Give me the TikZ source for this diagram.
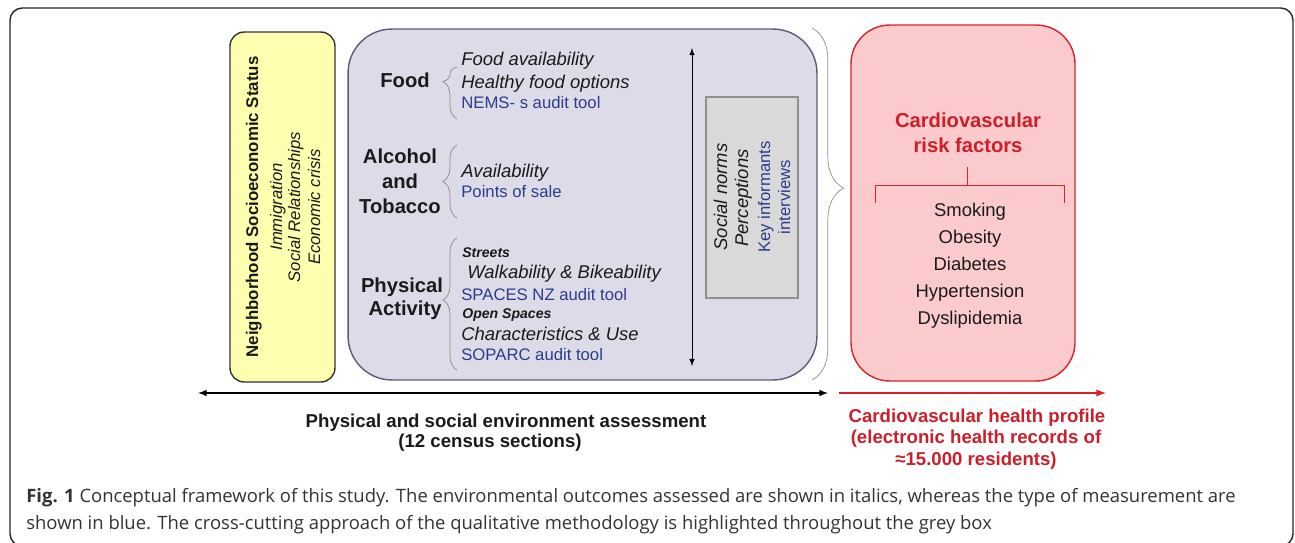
\documentclass[tikz,border=0pt]{standalone}
\usepackage{fontspec}
\setmainfont{Liberation Sans}
\newfontfamily\capfont{Open Sans}
\usepackage{xcolor}
\usetikzlibrary{positioning, decorations.pathreplacing, arrows}
\definecolor{sesfill}{HTML}{FFFFB0}
\definecolor{envfill}{HTML}{DEDBE9}
\definecolor{envline}{HTML}{5F5A78}
\definecolor{qualfill}{HTML}{D9D9D9}
\definecolor{qualline}{HTML}{8F8F8F}
\definecolor{cvfill}{HTML}{FACACC}
\definecolor{cvline}{HTML}{D8232A}
\definecolor{cvred}{HTML}{CC1F2A}
\definecolor{measblue}{HTML}{2B3C8C}
\definecolor{ink}{HTML}{1A1A1A}
\definecolor{bracegrey}{HTML}{8C8C8C}

\begin{document}
\begin{tikzpicture}[x=0.02cm, y=-0.02cm, text=ink,
  cat/.style={font=\fontsize{11.5}{14}\selectfont\bfseries, anchor=base, inner sep=0pt},
  outc/.style={font=\fontsize{10.5}{12}\selectfont\itshape, anchor=base west, inner sep=0pt},
  meas/.style={font=\fontsize{9.5}{11}\selectfont, text=measblue, anchor=base west, inner sep=0pt},
  sub/.style={font=\fontsize{8}{9}\selectfont\bfseries\itshape, anchor=base west, inner sep=0pt},
  vert/.style={rotate=90, anchor=base, inner sep=0pt},
  risk/.style={font=\fontsize{10.5}{12}\selectfont, anchor=base, inner sep=0pt},
  cvtitle/.style={font=\fontsize{11.5}{14}\selectfont\bfseries, text=cvred, anchor=base, inner sep=0pt},
  foot/.style={font=\fontsize{10.6}{13}\selectfont\bfseries, anchor=base, inner sep=0pt},
  capt/.style={font=\capfont\fontsize{10.5}{13}\selectfont, text=black!80, anchor=base west, inner sep=0pt},
  brace/.style={decorate, draw=bracegrey, thin}]
\useasboundingbox (0,0) rectangle (1295,542);
\draw [line width=0.8pt, black!85, rounded corners=7pt] (10,8) rectangle (1293,546);

\node [draw=black!80, fill=sesfill, line width=0.8pt, rounded corners=8pt, minimum width=2.1cm, minimum height=7cm] (ses) at (282.5,207) {};
\node [draw=envline, fill=envfill, line width=0.8pt, rounded corners=25pt, minimum width=9.38cm, minimum height=7.02cm] (env) at (582.5,204.5) {};
\node [draw=qualline, fill=qualfill, line width=0.8pt, minimum width=1.84cm, minimum height=4.02cm] (qual) at (752,197.5) {};
\node [draw=cvline, fill=cvfill, line width=0.8pt, rounded corners=22pt, minimum width=4.48cm, minimum height=7.12cm] (cv) at (963,203) {};

\node [vert, font=\fontsize{9.6}{11}\selectfont\bfseries] (sesT) at (258,207) {Neighborhood Socioeconomic Status};
\node [vert, font=\fontsize{9.5}{11}\selectfont\itshape] (ses1) at (282,207) {Immigration};
\node [vert, font=\fontsize{9.5}{11}\selectfont\itshape] (ses2) at (300,207) {Social Relationships};
\node [vert, font=\fontsize{9.5}{11}\selectfont\itshape] (ses3) at (320,207) {Economic crisis};

\node [cat] (food) at (405,87) {Food};
\node [cat] (alc1) at (400,163) {Alcohol};
\node [cat] (alc2) at (400,188) {and};
\node [cat] (alc3) at (400,213) {Tobacco};
\node [cat] (pa1) at (402,292) {Physical};
\node [cat] (pa2) at (405,315) {Activity};

\draw [brace, decoration={brace, amplitude=8pt, aspect=0.72}] (457,119) -- (457,67);
\draw [brace, decoration={brace, amplitude=8pt, aspect=0.5}] (457,218) -- (457,145);
\draw [brace, decoration={brace, amplitude=8pt, aspect=0.53}] (457,370) -- (457,238);

\node [outc] (foodA) at (461,65) {Food availability};
\node [outc] (foodH) at (461,88) {Healthy food options};
\node [meas] (foodM) at (461,108) {NEMS- s audit tool};
\node [outc] (alcA) at (461,177) {Availability};
\node [meas] (alcM) at (461,197) {Points of sale};
\node [sub] (paS) at (462,257) {Streets};
\node [outc] (paW) at (467,278) {Walkability \& Bikeability};
\node [meas] (paM1) at (461,300) {SPACES NZ audit tool};
\node [sub] (paO) at (462,318) {Open Spaces};
\node [outc] (paC) at (461,340) {Characteristics \& Use};
\node [meas] (paM2) at (461,360) {SOPARC audit tool};

\coordinate (crossT) at (692,48);
\coordinate (crossB) at (692,366);
\draw [latex-latex, thin] (crossT) -- (crossB);

\node [vert, font=\fontsize{10.5}{12}\selectfont\itshape] (qual1) at (727,197) {Social norms};
\node [vert, font=\fontsize{10.5}{12}\selectfont\itshape] (qual2) at (748,198) {Perceptions};
\node [vert, font=\fontsize{9.5}{11}\selectfont, text=measblue] (qual3) at (770,197) {Key informants};
\node [vert, font=\fontsize{9.5}{11}\selectfont, text=measblue] (qual4) at (790,197) {interviews};

\draw [brace, decoration={brace, amplitude=18pt, aspect=0.455}] (812,28) -- (812,380);

\node [cvtitle] (cvT1) at (968,127) {Cardiovascular};
\node [cvtitle] (cvT2) at (968,152) {risk factors};
\draw [cvline, thin] (967,167) -- (967,185) (875,203) -- (875,185) -- (1064,185) -- (1064,203);
\foreach \t [count=\i] in {Smoking,Obesity,Diabetes,Hypertension,Dyslipidemia}
  \node [risk] (rf\i) at (970,{189+27*\i}) {\t};

\coordinate (envL) at (198,393);
\coordinate (envR) at (828,393);
\coordinate (cvL) at (839,393);
\coordinate (cvR) at (1106,393);
\draw [latex-latex, line width=0.7pt] (envL) -- (envR);
\draw [-latex, cvline, line width=0.9pt] (cvL) -- (cvR);

\node [foot] (envF1) at (506,427) {Physical and social environment assessment};
\node [foot] (envF2) at (490,447) {(12 census sections)};
\node [foot, text=cvred] (cvF1) at (977,422) {Cardiovascular health profile};
\node [foot, text=cvred] (cvF2) at (976,443) {(electronic health records of};
\node [foot, text=cvred] (cvF3) at (976,465) {≈15.000 residents)};

\node [capt] (cap1) at (26,502) {{\bfseries Fig. 1} Conceptual framework of this study. The environmental outcomes assessed are shown in italics, whereas the type of measurement are};
\node [capt] (cap2) at (26,529) {shown in blue. The cross-cutting approach of the qualitative methodology is highlighted throughout the grey box};
\end{tikzpicture}
\end{document}
